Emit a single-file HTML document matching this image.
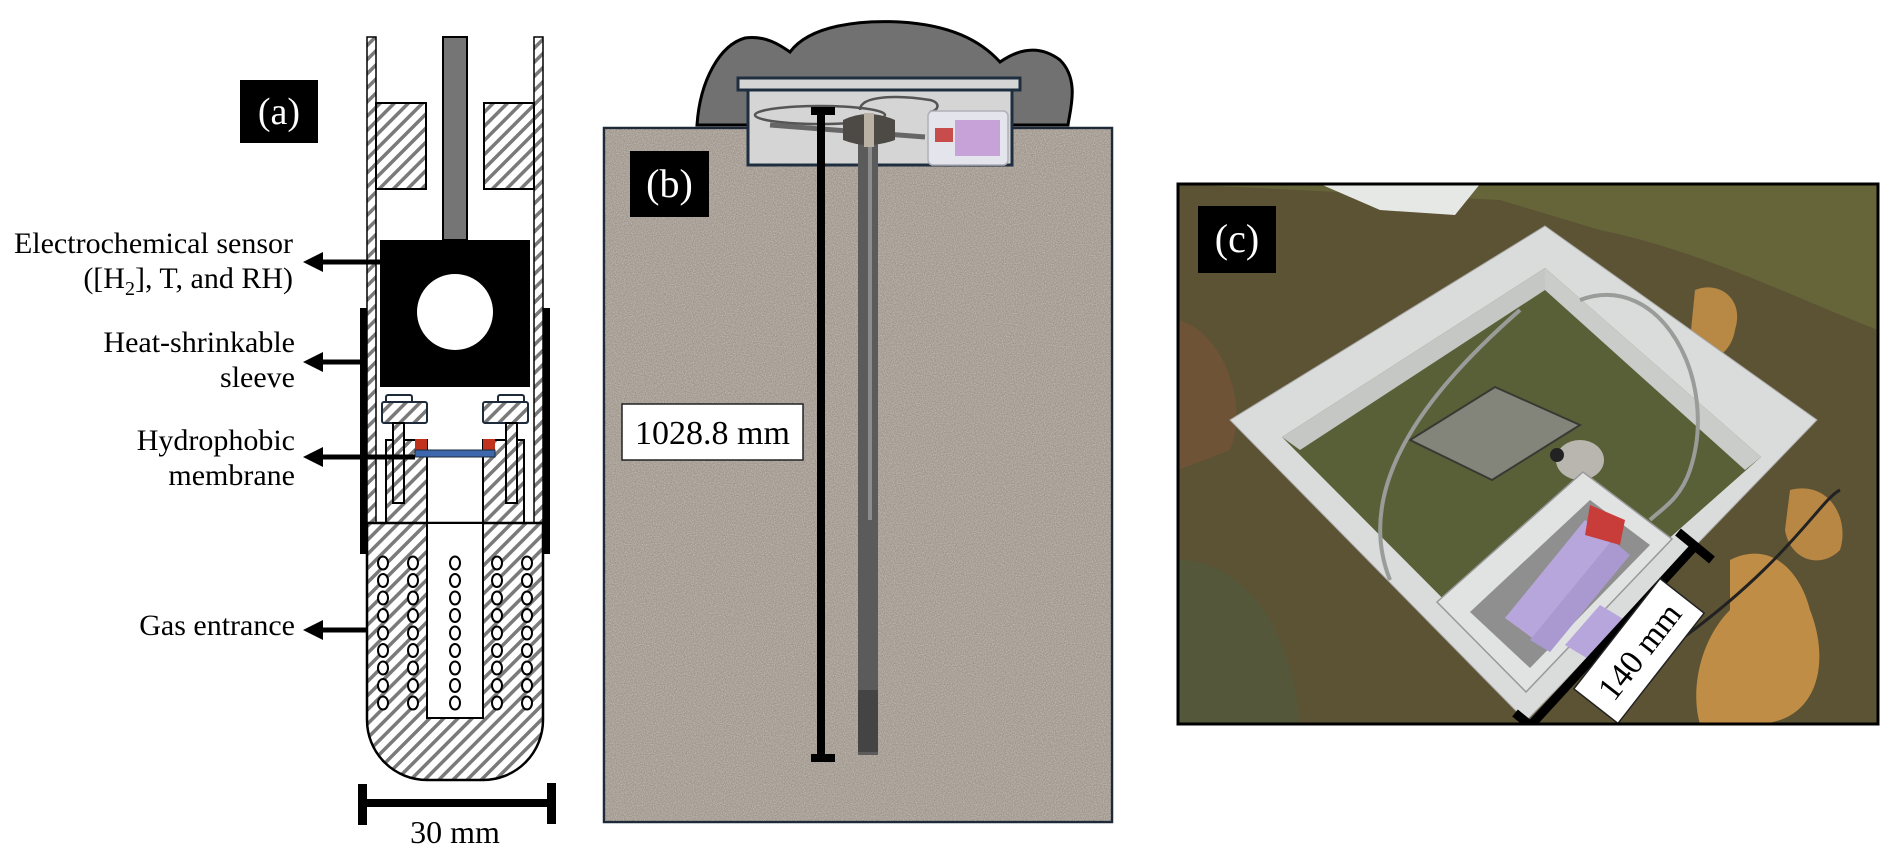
<!DOCTYPE html>
<html><head><meta charset="utf-8"><style>
html,body{margin:0;padding:0;background:#fff;}
svg{display:block;}
text{font-family:"Liberation Serif",serif;}
</style></head><body>
<svg width="1892" height="863" viewBox="0 0 1892 863" xmlns="http://www.w3.org/2000/svg">
<defs>
<pattern id="h" patternUnits="userSpaceOnUse" width="10" height="10" patternTransform="rotate(45)">
<rect width="10" height="10" fill="#fff"/><rect x="0" y="0" width="3.5" height="10" fill="#7a7a7a"/>
</pattern>
<filter id="n" x="0" y="0" width="100%" height="100%">
<feTurbulence type="fractalNoise" baseFrequency="0.9" numOctaves="2" seed="3"/>
<feColorMatrix values="0 0 0 0 0.62  0 0 0 0 0.58  0 0 0 0 0.54  0 0 0 -1.6 1.1"/>
</filter>
<g id="col">
<ellipse cx="0" cy="563" rx="5" ry="6.5"/><ellipse cx="0" cy="580.5" rx="5" ry="6.5"/><ellipse cx="0" cy="598" rx="5" ry="6.5"/>
<ellipse cx="0" cy="615.5" rx="5" ry="6.5"/><ellipse cx="0" cy="633" rx="5" ry="6.5"/><ellipse cx="0" cy="650.5" rx="5" ry="6.5"/>
<ellipse cx="0" cy="668" rx="5" ry="6.5"/><ellipse cx="0" cy="685.5" rx="5" ry="6.5"/><ellipse cx="0" cy="703" rx="5" ry="6.5"/>
</g>
</defs>

<!-- ===== Panel (a) ===== -->
<rect x="367" y="37" width="9" height="486" fill="url(#h)" stroke="#000" stroke-width="1.5"/>
<rect x="534" y="37" width="9" height="486" fill="url(#h)" stroke="#000" stroke-width="1.5"/>
<rect x="443" y="37" width="24" height="203" fill="#757575" stroke="#000" stroke-width="2"/>
<rect x="376" y="103" width="50" height="86" fill="url(#h)" stroke="#000" stroke-width="2"/>
<rect x="484" y="103" width="50" height="86" fill="url(#h)" stroke="#000" stroke-width="2"/>
<rect x="380" y="240" width="150" height="147" fill="#000"/>
<circle cx="455" cy="312" r="38" fill="#fff"/>
<g stroke-width="2">
<rect x="386" y="395" width="26" height="8" rx="2" fill="#fff" stroke="#1c2a3a"/>
<rect x="382" y="402" width="45" height="21" rx="2" fill="url(#h)" stroke="#1c2a3a"/>
<rect x="386" y="440" width="41" height="83" fill="url(#h)" stroke="#000"/>
<rect x="393" y="423" width="11" height="80" fill="url(#h)" stroke="#000"/>
<rect x="498" y="395" width="26" height="8" rx="2" fill="#fff" stroke="#1c2a3a"/>
<rect x="483" y="402" width="45" height="21" rx="2" fill="url(#h)" stroke="#1c2a3a"/>
<rect x="483" y="440" width="41" height="83" fill="url(#h)" stroke="#000"/>
<rect x="506" y="423" width="11" height="80" fill="url(#h)" stroke="#000"/>
</g>
<rect x="415" y="439" width="12" height="11" fill="#c0321e"/>
<rect x="483" y="439" width="12" height="11" fill="#c0321e"/>
<rect x="415" y="450" width="80" height="7" fill="#3d68ad" stroke="#1c2a3a" stroke-width="1"/>
<path d="M367 523 H543 V720 A60 60 0 0 1 483 780 H427 A60 60 0 0 1 367 720 Z" fill="url(#h)" stroke="#000" stroke-width="2.5"/>
<rect x="427" y="523" width="56" height="195" fill="#fff" stroke="#000" stroke-width="2"/>
<g fill="#fff" stroke="#000" stroke-width="2">
<use href="#col" x="383"/><use href="#col" x="413"/><use href="#col" x="455"/><use href="#col" x="497"/><use href="#col" x="527"/>
</g>
<rect x="360" y="308" width="7" height="246" fill="#000"/>
<rect x="543" y="308" width="7" height="246" fill="#000"/>
<g fill="#000">
<rect x="315" y="259.5" width="65" height="5"/><polygon points="303,262 323,252 323,272"/>
<rect x="315" y="359.5" width="45" height="5"/><polygon points="303,362 323,352 323,372"/>
<rect x="315" y="454.5" width="100" height="5"/><polygon points="303,457 323,447 323,467"/>
<rect x="315" y="627.5" width="52" height="5"/><polygon points="303,630 323,620 323,640"/>
</g>
<g font-size="30" text-anchor="end" fill="#000">
<text x="293" y="253">Electrochemical sensor</text>
<text x="293" y="288">([H<tspan font-size="20" dy="7">2</tspan><tspan dy="-7">], T, and RH)</tspan></text>
<text x="295" y="352">Heat-shrinkable</text>
<text x="295" y="387">sleeve</text>
<text x="295" y="450">Hydrophobic</text>
<text x="295" y="485">membrane</text>
<text x="295" y="635">Gas entrance</text>
</g>
<rect x="240" y="80" width="78" height="63" fill="#000"/>
<text x="279" y="124" font-size="38" fill="#fff" text-anchor="middle">(a)</text>
<rect x="358" y="784" width="9" height="41" fill="#000"/>
<rect x="547" y="783" width="9" height="41" fill="#000"/>
<rect x="358" y="799" width="198" height="8" fill="#000"/>
<text x="455" y="843" font-size="32" text-anchor="middle">30 mm</text>

<!-- ===== Panel (b) ===== -->
<path d="M697 125 C700 80 720 45 745 38 C765 35 780 45 790 52 C810 25 860 20 900 22 C950 25 980 40 1000 62 C1020 48 1040 45 1060 60 C1080 80 1070 110 1068 125 Z" fill="#717171" stroke="#000" stroke-width="3"/>
<rect x="604" y="128" width="508" height="694" fill="#9e958b" stroke="#1e2a38" stroke-width="2.5"/>
<rect x="605" y="129" width="506" height="692" filter="url(#n)" opacity="0.9"/>
<rect x="748" y="90" width="264" height="75" fill="#d5d5d5" stroke="#1e2e40" stroke-width="3"/>
<rect x="738" y="78" width="282" height="12" fill="#d5d5d5" stroke="#1e2e40" stroke-width="3"/>
<ellipse cx="820" cy="115" rx="65" ry="9" fill="none" stroke="#555" stroke-width="2.5"/>
<path d="M860 110 C860 95 900 95 930 100 C940 102 940 110 930 112" fill="none" stroke="#555" stroke-width="2.5"/>
<path d="M770 125 L925 137" stroke="#666" stroke-width="5"/>
<rect x="928" y="111" width="80" height="54" rx="5" fill="#e4e4ec" stroke="#b0b0b8" stroke-width="1.5"/>
<rect x="955" y="120" width="45" height="36" fill="#c7a2d8"/>
<rect x="935" y="128" width="18" height="14" fill="#c94c4c"/>
<rect x="858" y="120" width="20" height="635" fill="#5b5b5b"/>
<rect x="868" y="120" width="4" height="400" fill="#8c8c8c"/>
<rect x="858" y="690" width="20" height="62" fill="#444"/>
<path d="M843 120 Q868 108 895 120 L895 140 Q868 150 843 140 Z" fill="#4d4a46"/>
<rect x="864" y="113" width="10" height="34" fill="#b9b1a3"/>
<rect x="817" y="107" width="8" height="655" fill="#000"/>
<rect x="811" y="107" width="24" height="8" fill="#000"/>
<rect x="811" y="754" width="24" height="8" fill="#000"/>
<rect x="630" y="151" width="79" height="66" fill="#000"/>
<text x="669.5" y="197" font-size="40" fill="#fff" text-anchor="middle">(b)</text>
<rect x="622" y="404" width="181" height="56" fill="#fff" stroke="#222" stroke-width="1.5"/>
<text x="712.5" y="444" font-size="34" text-anchor="middle">1028.8 mm</text>

<!-- ===== Panel (c) ===== -->
<svg x="1178" y="184" width="700" height="540" viewBox="1178 184 700 540">
<rect x="1178" y="184" width="700" height="540" fill="#5c5334"/>
<path d="M1178 184 H1878 V330 C1800 300 1700 250 1600 230 L1500 200 Z" fill="#66653a"/>
<path d="M1178 320 C1220 330 1250 400 1230 450 L1178 470 Z" fill="#6e5337"/>
<path d="M1178 560 C1240 560 1290 620 1300 724 H1178 Z" fill="#55573a"/>
<path d="M1320 184 L1480 184 L1455 215 L1380 210 Z" fill="#e6e8e6"/>
<path d="M1695 290 C1720 280 1745 300 1735 330 C1730 360 1700 370 1690 340 Z" fill="#b88845"/>
<path d="M1730 560 C1770 540 1800 570 1810 610 C1830 660 1820 720 1760 724 L1700 724 C1690 690 1700 640 1730 610 Z" fill="#c08d46"/>
<path d="M1790 490 C1830 480 1850 520 1840 550 C1820 570 1790 560 1785 530 Z" fill="#b98744"/>
<polygon points="1545,226 1817,420 1526,721 1230,420" fill="#d9dcda" stroke="#aaa" stroke-width="1"/>
<polygon points="1545,268 1761,457 1517,673 1282,437" fill="#596038"/>
<polygon points="1545,268 1761,457 1745,470 1545,290" fill="#c9ccc9"/>
<polygon points="1545,268 1282,437 1300,450 1545,290" fill="#c4c7c4"/>
<polygon points="1495,387 1580,425 1492,480 1410,440" fill="#8c8c86" stroke="#333" stroke-width="2" opacity="0.85"/>
<ellipse cx="1580" cy="460" rx="24" ry="20" fill="#b9b6af"/>
<circle cx="1557" cy="455" r="7" fill="#222"/>
<path d="M1580 300 C1660 270 1720 380 1690 470 C1680 500 1660 510 1650 520" fill="none" stroke="#9a9c9a" stroke-width="4"/>
<path d="M1520 310 C1440 380 1350 480 1390 580" fill="none" stroke="#9a9c9a" stroke-width="4"/>
<path d="M1840 490 C1820 500 1790 560 1680 640" fill="none" stroke="#222" stroke-width="3"/>
<polygon points="1583,472 1672,539 1526,692 1437,602" fill="#e1e3e2" stroke="#999" stroke-width="1.5"/>
<polygon points="1590,500 1650,545 1530,668 1470,612" fill="#8f8f8f"/>
<polygon points="1585,520 1615,540 1535,640 1505,618" fill="#b7a6dc"/>
<polygon points="1612,540 1630,555 1550,652 1530,640" fill="#a999d0"/>
<polygon points="1600,605 1625,620 1590,660 1565,645" fill="#b7a6dc"/>
<polygon points="1590,505 1625,520 1620,545 1585,535" fill="#c83c3a"/>
<line x1="1531" y1="725" x2="1695" y2="546" stroke="#000" stroke-width="9"/>
<line x1="1515" y1="713" x2="1548" y2="740" stroke="#000" stroke-width="9"/>
<line x1="1678" y1="532" x2="1712" y2="560" stroke="#000" stroke-width="9"/>
<g transform="translate(1639,651) rotate(-52)">
<rect x="-70" y="-28" width="140" height="56" fill="#fff" stroke="#222" stroke-width="1.5"/>
<text x="0" y="12" font-size="34" text-anchor="middle">140 mm</text>
</g>
<rect x="1198" y="206" width="78" height="67" fill="#000"/>
<text x="1237" y="252" font-size="40" fill="#fff" text-anchor="middle">(c)</text>
</svg>
<rect x="1178" y="184" width="700" height="540" fill="none" stroke="#000" stroke-width="3"/>
</svg>
</body></html>
